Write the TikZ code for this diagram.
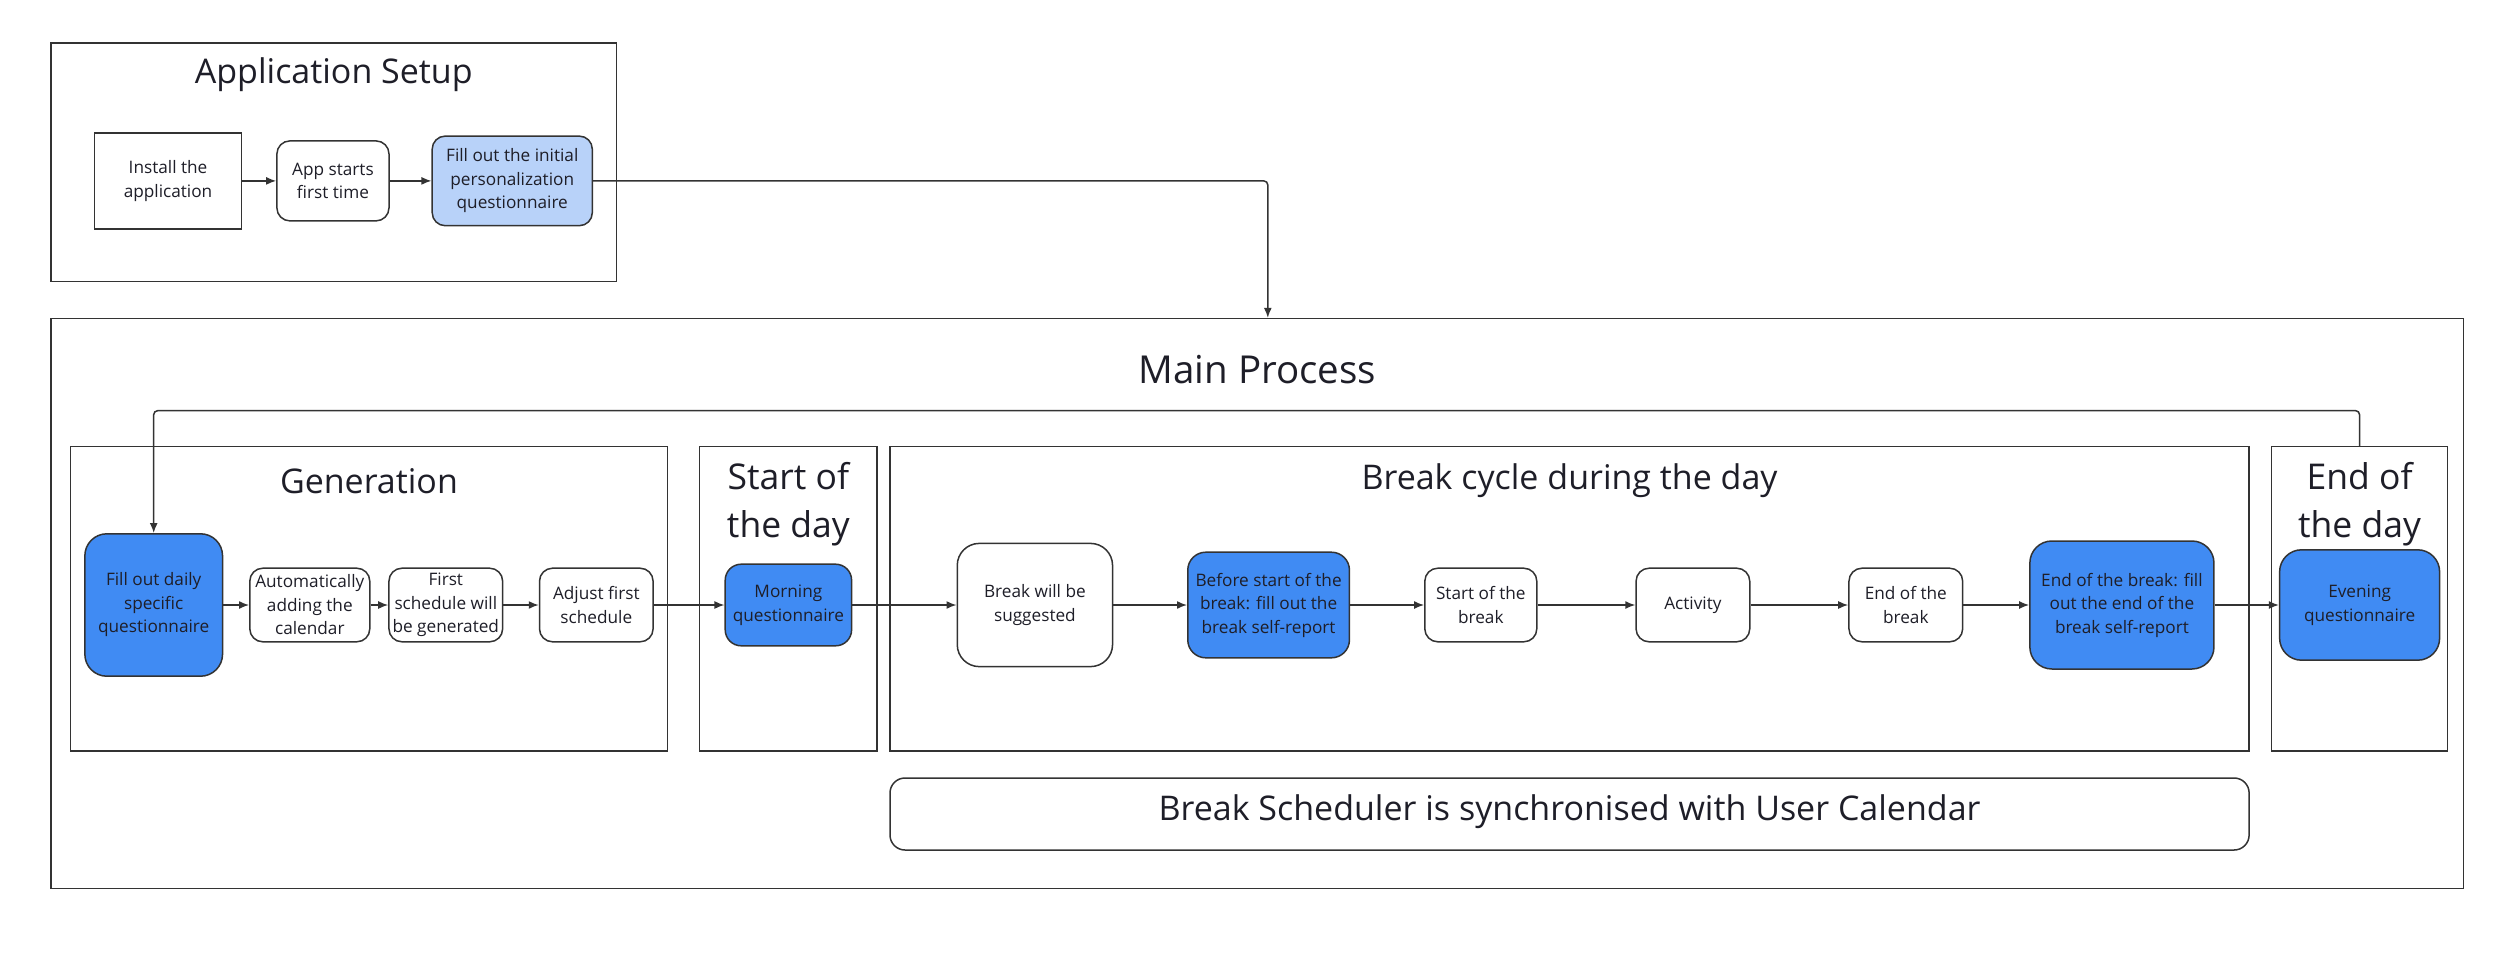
\documentclass[tikz,border=0pt]{standalone}
\usepackage{fontspec}
\setmainfont{Open Sans}
\usetikzlibrary{arrows.meta}
\definecolor{bluefill}{RGB}{64,139,243}
\definecolor{lightblue}{RGB}{184,210,249}
\definecolor{linec}{RGB}{51,51,51}
\definecolor{txt}{RGB}{30,30,40}
\tikzset{
  frame/.style={draw=linec, line width=1.5pt, fill=none},
  proc/.style={draw=linec, line width=1.5pt, rounded corners=13pt, align=center, inner sep=0pt,
    font=\fontsize{17.2}{23.5}\selectfont, text=txt, fill=white},
  bigproc/.style={proc, rounded corners=22pt},
  bluebox/.style={fill=bluefill},
  arr/.style={draw=linec, line width=1.5pt, -{Latex[length=10pt,width=8pt]}},
  ttl/.style={font=\fontsize{34}{47}\selectfont, text=txt, align=center, inner sep=0pt},
}
\begin{document}
\begin{tikzpicture}[x=1pt,y=-1pt]
\useasboundingbox[fill=white] (0,0) rectangle (2510,958);

% Application setup
\node[frame, minimum width=565.1pt, minimum height=238.5pt, inner sep=0pt] (setup) at (333.75,162.45) {};
\node[ttl] (setupttl) at (333.75,75) {Application Setup};
\node[draw=linec, line width=1.5pt, align=center, inner sep=0pt, font=\fontsize{17.2}{23.5}\selectfont, text=txt,
  minimum width=147.3pt, minimum height=96pt] (install) at (168.05,180.9) {Install the\\application};
\node[proc, minimum width=112.1pt, minimum height=80pt] (appstart) at (332.95,180.9) {App starts\\first time};
\node[proc, fill=lightblue, minimum width=160.1pt, minimum height=89.6pt] (initq) at (512.25,180.9) {Fill out the initial\\personalization\\questionnaire};

% Main process
\node[frame, minimum width=2412.4pt, minimum height=569.8pt, inner sep=0pt] (main) at (1257.4,603.5) {};
\node[ttl, font=\fontsize{38.5}{50}\selectfont] (mainttl) at (1257.4,370) {Main Process};

\node[frame, minimum width=597.1pt, minimum height=304.2pt, inner sep=0pt] (gen) at (368.95,598.7) {};
\node[ttl] (genttl) at (368.95,481) {Generation};
\node[frame, minimum width=177.6pt, minimum height=304.2pt, inner sep=0pt] (startday) at (788.4,598.7) {};
\node[ttl, font=\fontsize{35.5}{48}\selectfont] (startttl) at (788.4,504) {Start of\\the day};
\node[frame, minimum width=1359.1pt, minimum height=304.2pt, inner sep=0pt] (breakcyc) at (1569.55,598.7) {};
\node[ttl] (breakttl) at (1569.55,481) {Break cycle during the day};
\node[frame, minimum width=176.1pt, minimum height=304.2pt, inner sep=0pt] (endday) at (2359.55,598.7) {};
\node[ttl, font=\fontsize{35.5}{48}\selectfont] (endttl) at (2359.55,504) {End of\\the day};

\node[draw=linec, line width=1.5pt, rounded corners=15pt, minimum width=1359.1pt, minimum height=72pt, inner sep=0pt] (sync) at (1569.55,814) {};
\node[ttl] (syncttl) at (1569.55,811.6) {Break Scheduler is synchronised with User Calendar};

% process nodes
\node[bigproc, bluebox, minimum width=137.7pt, minimum height=142.4pt] (daily) at (153.7,605) {Fill out daily\\specific\\questionnaire};
\node[proc, minimum width=120pt, minimum height=73.6pt] (auto) at (309.8,605) {Automatically\\adding the\\calendar};
\node[proc, minimum width=113.7pt, minimum height=73.6pt] (first) at (445.8,605) {First\\schedule will\\be generated};
\node[proc, minimum width=113.6pt, minimum height=73.6pt] (adjust) at (596.3,605) {Adjust first\\schedule};
\node[proc, bluebox, rounded corners=16pt, minimum width=126.4pt, minimum height=81.6pt] (morning) at (788.4,605) {Morning\\questionnaire};
\node[bigproc, minimum width=155.3pt, minimum height=123.2pt] (suggest) at (1034.9,605) {Break will be\\suggested};
\node[bigproc, bluebox, rounded corners=18pt, minimum width=161.7pt, minimum height=105.6pt] (before) at (1268.6,605) {Before start of the\\break: fill out the\\break self-report};
\node[proc, minimum width=112pt, minimum height=73.6pt] (startbreak) at (1480.8,605) {Start of the\\break};
\node[proc, minimum width=113.7pt, minimum height=73.6pt] (activity) at (1692.9,605) {Activity};
\node[proc, minimum width=113.7pt, minimum height=73.6pt] (endbreak) at (1905.8,605) {End of the\\break};
\node[bigproc, bluebox, minimum width=184.1pt, minimum height=128pt] (endreport) at (2121.9,605) {End of the break: fill\\out the end of the\\break self-report};
\node[bigproc, bluebox, minimum width=160pt, minimum height=110.4pt] (evening) at (2359.6,605) {Evening\\questionnaire};

% connectors
\draw[arr] (install) -- (appstart);
\draw[arr] (appstart) -- (initq);
\draw[arr, rounded corners=4pt] (initq.east) -| (main.north -| 1267.8,0);
\draw[arr, rounded corners=4pt] (endday.north) -- ++(0,-35.2) -| (daily.north);
\draw[arr] (daily) -- (auto);
\draw[arr] (auto) -- (first);
\draw[arr] (first) -- (adjust);
\draw[arr] (adjust) -- (morning);
\draw[arr] (morning) -- (suggest);
\draw[arr] (suggest) -- (before);
\draw[arr] (before) -- (startbreak);
\draw[arr] (startbreak) -- (activity);
\draw[arr] (activity) -- (endbreak);
\draw[arr] (endbreak) -- (endreport);
\draw[arr] (endreport) -- (evening);
\end{tikzpicture}
\end{document}
